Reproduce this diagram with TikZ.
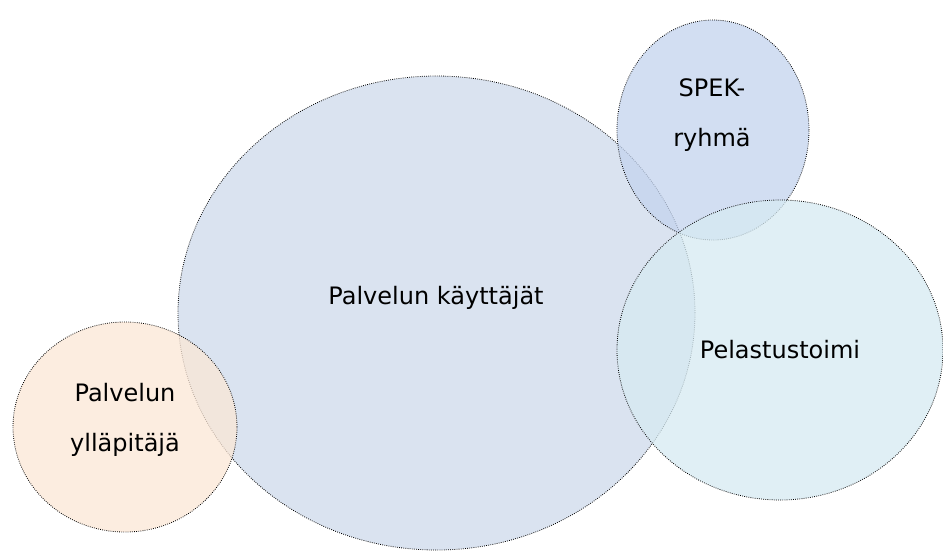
\documentclass[tikz,border=0pt]{standalone}
\usepackage{fontspec}
\setmainfont{DejaVu Sans}
\usetikzlibrary{shapes.geometric}
\definecolor{kayttajat}{HTML}{CEDAEB}
\definecolor{spek}{HTML}{C3D3EE}
\definecolor{pelastus}{HTML}{D6EAF2}
\definecolor{yllapito}{HTML}{FBE7D6}

\begin{document}
\begin{tikzpicture}[x=0.75pt,y=-0.75pt,
        joukko/.style={ellipse,draw=black,densely dotted,line width=0.6pt,
            fill opacity=0.75,inner sep=0pt},
        teksti/.style={font=\fontsize{18}{37.5}\selectfont,align=center}]

    \useasboundingbox (0,0) rectangle (943,551);

    \node[joukko,fill=kayttajat,minimum width=387.75pt,minimum height=355.5pt] (K) at (436.5,313) {};
    \node[joukko,fill=yllapito,minimum width=168pt,minimum height=157.5pt] (Y) at (125,427) {};
    \node[joukko,fill=spek,minimum width=144pt,minimum height=165pt] (S) at (713,130) {};
    \node[joukko,fill=pelastus,minimum width=244.5pt,minimum height=225pt] (P) at (780,350) {};

    \node[teksti] (Kt) at (436,298) {Palvelun käyttäjät};
    \node[teksti] (Yt) at (125,420) {Palvelun\\ylläpitäjä};
    \node[teksti] (St) at (712,115) {SPEK-\\ryhmä};
    \node[teksti] (Pt) at (780,350) {Pelastustoimi};

\end{tikzpicture}
\end{document}
